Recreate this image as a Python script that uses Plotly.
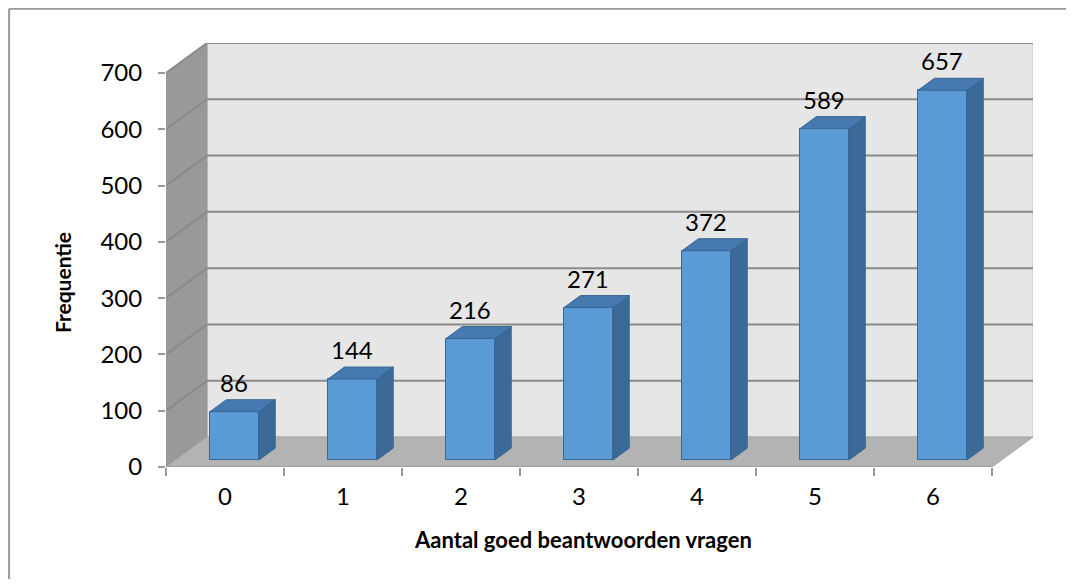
import plotly.graph_objects as go

categories = ["0", "1", "2", "3", "4", "5", "6"]
values = [86, 144, 216, 271, 372, 589, 657]
y_ticks = [0, 100, 200, 300, 400, 500, 600, 700]

# 3D look parameters (axis units)
DEPTH_X = 0.347      # wall depth along x
DEPTH_Y = 53.3       # wall depth along y (value units)
BAR_POS = 0.23       # bar front-face depth fraction
BAR_DEPTH = 0.40     # bar depth fraction
BAR_W = 0.414
YMAX = 700

FRONT = "#5b9bd5"
SIDE = "#3c6a98"
TOP = "#4679b0"
EDGE = "#3a6791"
GRID = "#8a8a8a"

fig = go.Figure()

shapes = []
# back wall
shapes.append(dict(type="rect", xref="x", yref="y", layer="below",
                   x0=-0.5 + DEPTH_X, x1=6.5 + DEPTH_X, y0=DEPTH_Y, y1=YMAX + DEPTH_Y,
                   fillcolor="#e6e6e6", line=dict(color="#c8c8c8", width=1)))
# side wall
shapes.append(dict(type="path", xref="x", yref="y", layer="below",
                   path=f"M -0.5 0 L {-0.5+DEPTH_X} {DEPTH_Y} L {-0.5+DEPTH_X} {YMAX+DEPTH_Y} L -0.5 {YMAX} Z",
                   fillcolor="#999999", line=dict(color="#8f8f8f", width=1)))
# floor
shapes.append(dict(type="path", xref="x", yref="y", layer="below",
                   path=f"M -0.5 0 L 6.5 0 L {6.5+DEPTH_X} {DEPTH_Y} L {-0.5+DEPTH_X} {DEPTH_Y} Z",
                   fillcolor="#b3b3b3", line=dict(color="#a6a6a6", width=1)))
# gridlines (side wall + back wall)
for v in y_ticks:
    if v == 0:
        continue
    shapes.append(dict(type="path", xref="x", yref="y", layer="below",
                       path=f"M -0.5 {v} L {-0.5+DEPTH_X} {v+DEPTH_Y} L {6.5+DEPTH_X} {v+DEPTH_Y}",
                       line=dict(color=GRID, width=2)))
# front axis lines
shapes.append(dict(type="line", xref="x", yref="y", layer="below",
                   x0=-0.5, x1=-0.5, y0=0, y1=YMAX, line=dict(color="#999999", width=1.5)))
shapes.append(dict(type="line", xref="x", yref="y", layer="below",
                   x0=-0.5, x1=6.5, y0=0, y1=0, line=dict(color="#999999", width=1.5)))
# outer chart border (top/left)
shapes.append(dict(type="line", xref="paper", yref="paper",
                   x0=-0.181, x1=1.05, y0=1.081, y1=1.081, line=dict(color="#9a9a9a", width=2)))
shapes.append(dict(type="line", xref="paper", yref="paper",
                   x0=-0.181, x1=-0.181, y0=1.081, y1=-0.3, line=dict(color="#9a9a9a", width=2)))

# bar front faces
xs = [i + BAR_POS * DEPTH_X for i in range(len(values))]
base = BAR_POS * DEPTH_Y
fig.add_trace(go.Bar(x=xs, y=values, base=[base] * len(values), width=BAR_W,
                     marker=dict(color=FRONT, line=dict(color=EDGE, width=1)),
                     hoverinfo="skip", showlegend=False))

bdx = BAR_DEPTH * DEPTH_X
bdy = BAR_DEPTH * DEPTH_Y
annotations = []
for i, v in enumerate(values):
    xl = xs[i] - BAR_W / 2
    xr = xs[i] + BAR_W / 2
    top = base + v
    # side face
    fig.add_trace(go.Scatter(x=[xr, xr + bdx, xr + bdx, xr, xr],
                             y=[base, base + bdy, top + bdy, top, base],
                             fill="toself", fillcolor=SIDE, mode="lines",
                             line=dict(color=EDGE, width=1), hoverinfo="skip", showlegend=False))
    # top face
    fig.add_trace(go.Scatter(x=[xl, xr, xr + bdx, xl + bdx, xl],
                             y=[top, top, top + bdy, top + bdy, top],
                             fill="toself", fillcolor=TOP, mode="lines",
                             line=dict(color=EDGE, width=1), hoverinfo="skip", showlegend=False))
    annotations.append(dict(x=xs[i], y=top + bdy, text=str(v), showarrow=False,
                            yanchor="bottom", yshift=1, xref="x", yref="y",
                            font=dict(family="Lato", size=24, color="#000000")))

# axis titles
annotations.append(dict(text="<b>Frequentie</b>", xref="paper", yref="paper",
                        x=-0.12, y=0.436, xanchor="center", yanchor="middle",
                        textangle=-90, showarrow=False,
                        font=dict(family="Lato", size=21, color="#000000")))
annotations.append(dict(text="<b>Aantal goed beantwoorden vragen</b>", xref="paper", yref="paper",
                        x=0.481, y=-0.172, xanchor="center", yanchor="middle", showarrow=False,
                        font=dict(family="Lato", size=22, color="#000000")))

fig.update_layout(
    width=1058, height=571,
    margin=dict(l=158, r=33, t=35, b=112),
    paper_bgcolor="white", plot_bgcolor="white",
    shapes=shapes, annotations=annotations,
    bargap=0,
    xaxis=dict(range=[-0.5, 6.5 + DEPTH_X], tickmode="array",
               tickvals=list(range(len(categories))), ticktext=categories,
               ticks="outside", ticklen=8, tickcolor="rgba(0,0,0,0)",
               showgrid=False, zeroline=False, showline=False,
               tickfont=dict(family="Lato", size=24, color="#000000"),
               minor=dict(tickmode="array", tickvals=[k - 0.5 for k in range(len(categories) + 1)],
                          ticks="outside", ticklen=8, tickcolor="#999999", tickwidth=1.5, showgrid=False),
               fixedrange=True),
    yaxis=dict(range=[0, YMAX + DEPTH_Y], tickmode="array", tickvals=y_ticks,
               ticks="outside", ticklen=7, tickcolor="#999999", tickwidth=1.5,
               ticklabelstandoff=11,
               showgrid=False, zeroline=False, showline=False,
               tickfont=dict(family="Lato", size=24, color="#000000"),
               fixedrange=True),
)

fig.write_html("out.html")
